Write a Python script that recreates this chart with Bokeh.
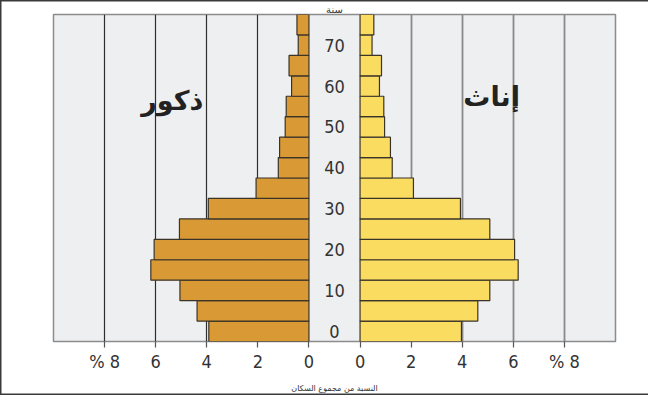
import numpy as np
from bokeh.plotting import figure
from bokeh.models import ColumnDataSource, FixedTicker, Grid, LinearAxis, Label
from bokeh.core.properties import value
from bokeh.embed import file_html
from bokeh.resources import INLINE

# ---- data ----
age_start = [0, 5, 10, 15, 20, 25, 30, 35, 40, 45, 50, 55, 60, 65, 70, 75]
males = [3.92, 4.38, 5.05, 6.19, 6.06, 5.07, 3.94, 2.07, 1.20, 1.15, 0.93, 0.89, 0.68, 0.78, 0.42, 0.47]
females = [3.97, 4.61, 5.08, 6.19, 6.05, 5.08, 3.93, 2.09, 1.26, 1.19, 0.96, 0.93, 0.76, 0.84, 0.47, 0.54]
age_labels = ["0", "10", "20", "30", "40", "50", "60", "70"]
age_label_values = [0, 10, 20, 30, 40, 50, 60, 70]
pct_ticks = [0, 2, 4, 6, 8]
pct_tick_labels = ["0", "2", "4", "6", "% 8"]
male_title = "ذكور"
female_title = "إناث"
age_title = "سنة"
x_title = "النسبة من مجموع السكان"

# ---- layout constants ----
GAP = 1.0        # half-width of the central age column, in % units
BAND = 5         # width of an age group
NUM_FONT = "'DejaVu Sans Condensed', Roboto, sans-serif"
AR_FONT = "DejaVu Sans"

ages = np.array(age_start, dtype=float)
m = np.array(males)
f = np.array(females)

src = ColumnDataSource(dict(
    bottom=ages, top=ages + BAND,
    m_left=-(GAP + m), m_right=np.full_like(m, -GAP),
    f_left=np.full_like(f, GAP), f_right=GAP + f,
))

p = figure(width=648, height=395, x_range=(-(GAP + 10), GAP + 10), y_range=(0, 80),
           output_backend="svg", toolbar_location=None,
           x_axis_type=None, y_axis_type=None,
           min_border_left=53, min_border_right=33, min_border_top=0, min_border_bottom=54)
p.background_fill_color = "#eeeff1"
p.border_fill_color = None
p.outline_line_color = "#8c8c8c"
p.outline_line_width = 1.5
p.xgrid.visible = False
p.ygrid.visible = False
p.styles = {"box-shadow": "inset 1.5px 0 0 #3a3a3a, inset 0 1.5px 0 #3a3a3a, inset 0 -1.5px 0 #3a3a3a"}

left_grid = [-(GAP + v) for v in pct_ticks if v > 0]
right_grid = [GAP + v for v in pct_ticks if v > 0]
p.add_layout(Grid(dimension=0, ticker=FixedTicker(ticks=left_grid),
                  grid_line_color="#2e2e2e", grid_line_width=1.2))
p.add_layout(Grid(dimension=0, ticker=FixedTicker(ticks=right_grid),
                  grid_line_color="#8a8a8a", grid_line_width=1.8))

p.quad(left="m_left", right="m_right", bottom="bottom", top="top", source=src,
       fill_color="#d99a35", line_color="#3a3328", line_width=1.2)
p.quad(left="f_left", right="f_right", bottom="bottom", top="top", source=src,
       fill_color="#fadd60", line_color="#3a3328", line_width=1.2)

# age labels in the central column
p.text(x=[0] * len(age_labels), y=[a + BAND / 2 for a in age_label_values], text=age_labels,
       text_font=value(NUM_FONT), text_font_size="18px", text_color="#333333",
       text_align="center", text_baseline="middle")

# top axis: carries only the "age" title
top_ax = LinearAxis(ticker=FixedTicker(ticks=[]),
                    axis_line_color=None, major_tick_in=0, major_tick_out=0,
                    major_tick_line_color=None, minor_tick_line_color=None,
                    major_label_text_font_size="0px", major_label_standoff=0,
                    axis_label=age_title, axis_label_text_font=AR_FONT,
                    axis_label_text_font_size="10px", axis_label_text_font_style="normal",
                    axis_label_text_color="#333333", axis_label_standoff=0)
p.add_layout(top_ax, "above")

# bottom axis with percentage ticks on both sides
tick_pos = [-(GAP + v) for v in pct_ticks] + [GAP + v for v in pct_ticks]
overrides = {}
for v, lab in zip(pct_ticks, pct_tick_labels):
    overrides[-(GAP + v)] = lab
    overrides[GAP + v] = lab
ax = LinearAxis(ticker=FixedTicker(ticks=tick_pos), major_label_overrides=overrides,
                axis_line_color=None, major_tick_in=0, major_tick_out=6,
                major_tick_line_color="#555555", major_tick_line_width=1.2,
                major_label_standoff=3,
                major_label_text_font=NUM_FONT, major_label_text_font_size="18px",
                major_label_text_color="#333333",
                axis_label=x_title, axis_label_text_font=AR_FONT,
                axis_label_text_font_size="8px", axis_label_text_font_style="normal",
                axis_label_text_color="#333333", axis_label_standoff=9)
p.add_layout(ax, "below")

p.add_layout(Label(x=-6.35, y=58.9, text=male_title, text_font=AR_FONT, text_font_size="27px",
                   text_font_style="bold", text_color="#222222",
                   text_align="center", text_baseline="middle"))
p.add_layout(Label(x=6.15, y=59.9, text=female_title, text_font=AR_FONT, text_font_size="27px",
                   text_font_style="bold", text_color="#222222",
                   text_align="center", text_baseline="middle"))

open("out.html", "w").write(file_html(p, INLINE))
